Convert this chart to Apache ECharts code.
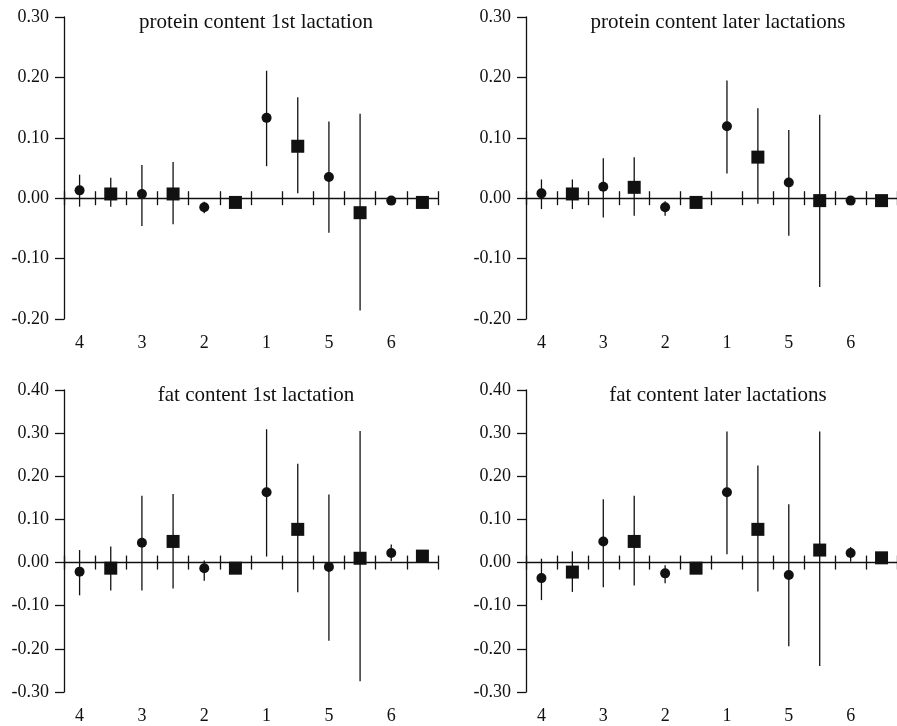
<!DOCTYPE html>
<html>
<head>
<meta charset="utf-8">
<script src="https://cdn.jsdelivr.net/npm/echarts@6/dist/echarts.min.js"></script>
<style>
  html, body { margin: 0; padding: 0; background: #fff; }
  #chart { width: 897px; height: 726px; }
</style>
</head>
<body>
<div id="chart"></div>
<script>
// group labels, left to right
var groups = ['4', '3', '2', '1', '5', '6'];
var titles = ['protein content 1st lactation', 'protein content later lactations',
              'fat content 1st lactation', 'fat content later lactations'];

// protein content 1st lactation
var prot1Circle     = [0.013, 0.007, -0.015, 0.133, 0.035, -0.004];
var prot1CircleLow  = [-0.014, -0.046, -0.025, 0.053, -0.057, -0.009];
var prot1CircleHigh = [0.039, 0.055, -0.006, 0.211, 0.127, 0.000];
var prot1Square     = [0.007, 0.007, -0.007, 0.086, -0.024, -0.007];
var prot1SquareLow  = [-0.014, -0.043, -0.012, 0.008, -0.186, -0.012];
var prot1SquareHigh = [0.034, 0.060, -0.001, 0.167, 0.140, -0.002];

// protein content later lactations
var protLCircle     = [0.008, 0.019, -0.015, 0.119, 0.026, -0.004];
var protLCircleLow  = [-0.018, -0.032, -0.029, 0.041, -0.062, -0.010];
var protLCircleHigh = [0.031, 0.066, -0.005, 0.195, 0.113, 0.000];
var protLSquare     = [0.007, 0.018, -0.007, 0.068, -0.004, -0.004];
var protLSquareLow  = [-0.018, -0.029, -0.012, -0.009, -0.147, -0.009];
var protLSquareHigh = [0.031, 0.068, -0.002, 0.149, 0.138, 0.001];

// fat content 1st lactation
var fat1Circle     = [-0.021, 0.046, -0.013, 0.163, -0.010, 0.022];
var fat1CircleLow  = [-0.076, -0.065, -0.042, 0.014, -0.181, 0.003];
var fat1CircleHigh = [0.029, 0.155, 0.005, 0.309, 0.158, 0.042];
var fat1Square     = [-0.013, 0.049, -0.013, 0.077, 0.010, 0.015];
var fat1SquareLow  = [-0.065, -0.060, -0.020, -0.069, -0.275, 0.006];
var fat1SquareHigh = [0.037, 0.159, -0.006, 0.229, 0.305, 0.024];

// fat content later lactations
var fatLCircle     = [-0.036, 0.049, -0.025, 0.163, -0.029, 0.022];
var fatLCircleLow  = [-0.087, -0.057, -0.048, 0.019, -0.194, 0.002];
var fatLCircleHigh = [0.009, 0.147, -0.006, 0.304, 0.135, 0.036];
var fatLSquare     = [-0.022, 0.049, -0.013, 0.077, 0.029, 0.011];
var fatLSquareLow  = [-0.068, -0.053, -0.020, -0.067, -0.240, 0.004];
var fatLSquareHigh = [0.026, 0.155, -0.006, 0.225, 0.304, 0.018];

var yMin = [-0.2, -0.2, -0.3, -0.3];
var yMax = [0.3, 0.3, 0.4, 0.4];

var panels = [
    [prot1Circle, prot1CircleLow, prot1CircleHigh, prot1Square, prot1SquareLow, prot1SquareHigh],
    [protLCircle, protLCircleLow, protLCircleHigh, protLSquare, protLSquareLow, protLSquareHigh],
    [fat1Circle, fat1CircleLow, fat1CircleHigh, fat1Square, fat1SquareLow, fat1SquareHigh],
    [fatLCircle, fatLCircleLow, fatLCircleHigh, fatLSquare, fatLSquareLow, fatLSquareHigh]
];

// each group gets two slots: circle then square
var slots = [];
groups.forEach(function (g) { slots.push(g, ''); });

var font = 'Liberation Serif';
var ink = '#111';
var gridPos = [
    {left: 64, top: 17, width: 374, height: 302},
    {left: 526, top: 17, width: 374, height: 302},
    {left: 64, top: 390, width: 374, height: 302},
    {left: 526, top: 390, width: 374, height: 302}
];

var grid = [], xAxis = [], yAxis = [], series = [], title = [];

function errorBar(params, api) {
    var x = api.value(0);
    var a = api.coord([x, api.value(1)]);
    var b = api.coord([x, api.value(2)]);
    return {
        type: 'line',
        shape: {x1: a[0], y1: a[1], x2: b[0], y2: b[1]},
        style: {stroke: ink, lineWidth: 1.3}
    };
}

panels.forEach(function (p, i) {
    var gp = gridPos[i];
    grid.push({left: gp.left, top: gp.top, width: gp.width, height: gp.height, containLabel: false});
    title.push({
        text: titles[i],
        left: gp.left + gp.width / 2,
        top: gp.top - 10,
        textAlign: 'center',
        textStyle: {fontFamily: font, fontSize: 21, fontWeight: 'normal', color: ink}
    });

    // labels at the bottom
    xAxis.push({
        type: 'category', gridIndex: i, data: slots, position: 'bottom',
        axisLine: {show: false, onZero: false},
        axisTick: {show: false},
        axisLabel: {interval: 0, margin: 15, fontFamily: font, fontSize: 18, color: ink}
    });
    // zero line with ticks pointing down
    xAxis.push({
        type: 'category', gridIndex: i, data: slots, position: 'bottom',
        axisLine: {show: true, onZero: true, onZeroAxisIndex: 2 * i, lineStyle: {color: ink, width: 1.3}},
        axisTick: {show: true, interval: 0, length: 7, lineStyle: {color: ink, width: 1.3}},
        axisLabel: {show: false}
    });
    // ticks pointing up, sits on zero of the hidden twin y axis
    xAxis.push({
        type: 'category', gridIndex: i, data: slots, position: 'top',
        axisLine: {show: false, onZero: true, onZeroAxisIndex: 2 * i + 1},
        axisTick: {show: true, interval: 0, length: 7, lineStyle: {color: ink, width: 1.3}},
        axisLabel: {show: false}
    });

    yAxis.push({
        type: 'value', gridIndex: i, min: yMin[i], max: yMax[i], interval: 0.1,
        axisLine: {show: true, onZero: false, lineStyle: {color: ink, width: 1.3}},
        axisTick: {show: true, length: 9, lineStyle: {color: ink, width: 1.3}},
        splitLine: {show: false},
        axisLabel: {
            margin: 15, fontFamily: font, fontSize: 18, color: ink,
            formatter: function (v) { return Math.abs(v) < 1e-9 ? '0.00' : v.toFixed(2); }
        }
    });
    yAxis.push({
        type: 'value', gridIndex: i, min: yMin[i], max: yMax[i], interval: 0.1,
        position: 'left', show: false,
        axisLine: {onZero: false}, splitLine: {show: false}
    });

    var circleBars = [], squareBars = [], circles = [], squares = [];
    groups.forEach(function (g, k) {
        circleBars.push([2 * k, p[1][k], p[2][k]]);
        squareBars.push([2 * k + 1, p[4][k], p[5][k]]);
        circles.push([2 * k, p[0][k]]);
        squares.push([2 * k + 1, p[3][k]]);
    });

    var xi = i * 3, yi = i * 2;
    series.push({
        type: 'custom', xAxisIndex: xi, yAxisIndex: yi, renderItem: errorBar,
        encode: {x: 0, y: [1, 2]}, data: circleBars.concat(squareBars), z: 2
    });
    series.push({
        type: 'scatter', xAxisIndex: xi, yAxisIndex: yi, symbol: 'circle', symbolSize: 10,
        itemStyle: {color: ink, opacity: 1}, data: circles, z: 3
    });
    series.push({
        type: 'scatter', xAxisIndex: xi, yAxisIndex: yi, symbol: 'rect', symbolSize: 13,
        itemStyle: {color: ink, opacity: 1}, data: squares, z: 3
    });
});

var chart = echarts.init(document.getElementById('chart'));
chart.setOption({
    backgroundColor: '#fff',
    animation: false,
    title: title,
    grid: grid,
    xAxis: xAxis,
    yAxis: yAxis,
    series: series
});
</script>
</body>
</html>
